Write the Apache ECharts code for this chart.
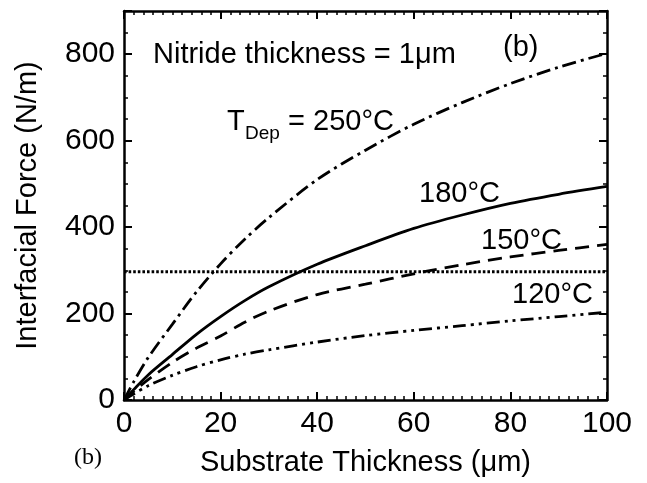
<!DOCTYPE html>
<html><head><meta charset="utf-8">
<script src="https://cdn.jsdelivr.net/npm/echarts@6/dist/echarts.min.js"></script>
<style>html,body{margin:0;padding:0;background:#fff}#c{width:647px;height:483px}</style>
</head><body><div id="c"></div>
<script>
// Substrate thickness (µm)
const thickness = [0, 2, 5, 10, 15, 20, 25, 30, 40, 50, 60, 70, 80, 90, 100];
// Interfacial force (N/m) for each deposition temperature
const force250 = [0, 42, 98, 175, 250, 315, 372, 422, 510, 578, 638, 688, 732, 770, 802];
const force180 = [0, 24, 58, 105, 152, 193, 230, 262, 314, 357, 397, 428, 455, 476, 494];
const force150 = [0, 20, 47, 87, 120, 148, 180, 206, 244, 268, 292, 313, 331, 346, 360];
const force120 = [0, 14, 33, 57, 77, 93, 106, 116, 134, 149, 161, 172, 183, 193, 203];
// Horizontal reference level
const thresholdX = [0, 100];
const thresholdY = [297, 297];

const FONT = "'Liberation Sans', Arial, Helvetica, sans-serif";
const pairs = (xs, ys) => xs.map((x, i) => [x, ys[i]]);

const chart = echarts.init(document.getElementById('c'), null, {renderer: 'canvas'});

const baseAxis = {
  axisLine: {show: true, onZero: false, lineStyle: {color: '#000', width: 2.5}},
  axisTick: {show: true, inside: true, length: 8, lineStyle: {color: '#000', width: 2}},
  splitLine: {show: false}
};
const minor = (n) => ({show: true, splitNumber: n, length: 4, lineStyle: {color: '#000', width: 1.5}});

const lineSeries = (data, dash) => ({
  type: 'line', data, smooth: 0.3, symbol: 'none', xAxisIndex: 0, yAxisIndex: 0,
  lineStyle: {color: '#000', width: 2.8, type: dash, cap: 'butt'}, z: 3, silent: true
});

chart.setOption({
  animation: false,
  backgroundColor: '#fff',
  grid: {left: 124, right: 40, top: 11, bottom: 83},
  xAxis: [
    Object.assign({}, baseAxis, {
      type: 'value', position: 'bottom', min: 0, max: 100, interval: 20,
      minorTick: minor(10),
      axisLabel: {color: '#000', fontSize: 30, fontFamily: FONT, margin: 9},
      name: 'Substrate Thickness (\u03bcm)', nameLocation: 'middle', nameGap: 48,
      nameTextStyle: {color: '#000', fontSize: 29, fontFamily: FONT}
    }),
    Object.assign({}, baseAxis, {
      type: 'value', position: 'top', min: 0, max: 100, interval: 20,
      minorTick: minor(10),
      axisLabel: {show: false}
    })
  ],
  yAxis: [
    Object.assign({}, baseAxis, {
      type: 'value', position: 'left', min: 0, max: 900, interval: 200,
      minorTick: minor(4),
      axisLabel: {color: '#000', fontSize: 30, fontFamily: FONT, margin: 9,
        formatter: v => (v % 200 === 0 ? String(v) : '')},
      name: 'Interfacial Force (N/m)', nameLocation: 'middle', nameGap: 82, nameRotate: 90,
      nameTextStyle: {color: '#000', fontSize: 29, fontFamily: FONT}
    }),
    Object.assign({}, baseAxis, {
      type: 'value', position: 'right', min: 0, max: 900, interval: 200,
      minorTick: minor(4),
      axisLabel: {show: false}
    })
  ],
  series: [
    {type: 'line', data: pairs(thresholdX, thresholdY), symbol: 'none', silent: true,
     lineStyle: {color: '#000', width: 3, type: [2.6, 2], cap: 'butt'}, z: 2},
    lineSeries(pairs(thickness, force250), [14, 5, 3, 5]),
    lineSeries(pairs(thickness, force180), 'solid'),
    lineSeries(pairs(thickness, force150), [14, 8]),
    lineSeries(pairs(thickness, force120), [13, 5, 3, 5, 3, 5])
  ],
  graphic: [
    {type: 'text', left: 153, top: 40, style: {text: 'Nitride thickness = 1\u03bcm', font: '29px ' + FONT, fill: '#000'}},
    {type: 'text', left: 503, top: 33, style: {text: '(b)', font: '29px ' + FONT, fill: '#000'}},
    {type: 'text', left: 227, top: 107, style: {text: 'T', font: '29px ' + FONT, fill: '#000'}},
    {type: 'text', left: 245, top: 124, style: {text: 'Dep', font: '19px ' + FONT, fill: '#000'}},
    {type: 'text', left: 280, top: 107, style: {text: ' = 250\u00b0C', font: '29px ' + FONT, fill: '#000'}},
    {type: 'text', left: 419, top: 179, style: {text: '180\u00b0C', font: '29px ' + FONT, fill: '#000'}},
    {type: 'text', left: 481, top: 226, style: {text: '150\u00b0C', font: '29px ' + FONT, fill: '#000'}},
    {type: 'text', left: 512, top: 280, style: {text: '120\u00b0C', font: '29px ' + FONT, fill: '#000'}},
    {type: 'text', left: 74, top: 446, style: {text: '(b)', font: '24px "Liberation Serif", "Times New Roman", serif', fill: '#000'}}
  ]
});
</script>
</body></html>
